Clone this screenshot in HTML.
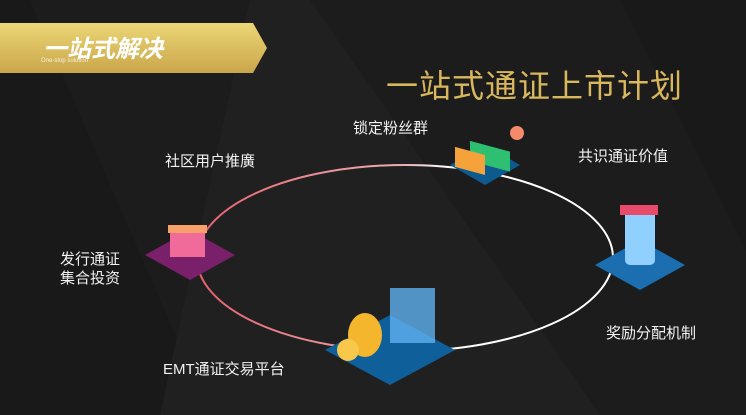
<!DOCTYPE html>
<html><head><meta charset="utf-8"><style>
html,body{margin:0;padding:0}
body{width:746px;height:415px;overflow:hidden;position:relative;background:#1c1c1d;font-family:"Liberation Sans","Noto Sans CJK SC",sans-serif}
.t{position:absolute;color:#f2f2f2;font-size:15px;white-space:nowrap}
</style></head><body>
<svg width="746" height="415" style="position:absolute;left:0;top:0">
<defs>
<linearGradient id="g" x1="0" y1="0" x2="0" y2="1"><stop offset="0" stop-color="#ecd675"/><stop offset="1" stop-color="#c9a64a"/></linearGradient>
<linearGradient id="e" x1="0" y1="0" x2="1" y2="0"><stop offset="0" stop-color="#e8606c"/><stop offset="0.5" stop-color="#e9b0b4"/><stop offset="0.6" stop-color="#ffffff"/></linearGradient>
</defs>
<polygon points="0,0 30,0 210,415 0,415" fill="#19191a"/>
<polygon points="250,0 310,0 600,415 160,415" fill="#202021"/>
<polygon points="620,0 746,0 746,250" fill="#19191a"/>
<polygon points="0,23 253,23 267,48 253,73 0,73" fill="url(#g)"/>
<ellipse cx="405" cy="258" rx="208" ry="93" fill="none" stroke="url(#e)" stroke-width="2"/>
<polygon points="485,145 520,165 485,185 450,165" fill="#0d5a8e"/>
<rect x="470" y="140" width="40" height="20" fill="#2fbf71" transform="skewY(15) translate(0,-125)"/>
<rect x="455" y="150" width="30" height="20" fill="#f5a23a" transform="skewY(15) translate(0,-125)"/>
<circle cx="517" cy="133" r="7" fill="#f48a6a"/>
<polygon points="190,230 235,255 190,280 145,255" fill="#7a1f6a"/>
<rect x="170" y="232" width="35" height="25" fill="#f06a9a"/>
<rect x="168" y="225" width="39" height="8" fill="#f8a06a"/>
<polygon points="640,240 685,265 640,290 595,265" fill="#1b6fb0"/>
<rect x="625" y="210" width="30" height="55" rx="5" fill="#8fd0ff"/>
<rect x="620" y="205" width="38" height="10" fill="#e84a6a"/>
<polygon points="390,315 455,350 390,385 325,350" fill="#0f5f9a"/>
<rect x="390" y="288" width="45" height="55" fill="#5fb0f0" opacity="0.8"/>
<ellipse cx="365" cy="335" rx="17" ry="22" fill="#f3b62c"/>
<circle cx="348" cy="350" r="11" fill="#f7c84a"/>
</svg>
<div style="position:absolute;left:43px;top:29px;font-size:24px;font-style:italic;font-weight:bold;color:#fff">一站式解决</div>
<div style="position:absolute;left:41px;top:58px;font-size:6px;color:#f5f0dc">One-stop solution</div>
<div style="position:absolute;left:386px;top:61px;font-size:32px;color:#d9b75c;letter-spacing:1px">一站式通证上市计划</div>
<div class="t" style="left:353px;top:117px">锁定粉丝群</div>
<div class="t" style="left:165px;top:150px">社区用户推廣</div>
<div class="t" style="left:578px;top:145px">共识通证价值</div>
<div class="t" style="left:60px;top:250px;line-height:19px">发行通证<br>集合投资</div>
<div class="t" style="left:606px;top:322px">奖励分配机制</div>
<div class="t" style="left:163px;top:358px">EMT通证交易平台</div>
</body></html>
